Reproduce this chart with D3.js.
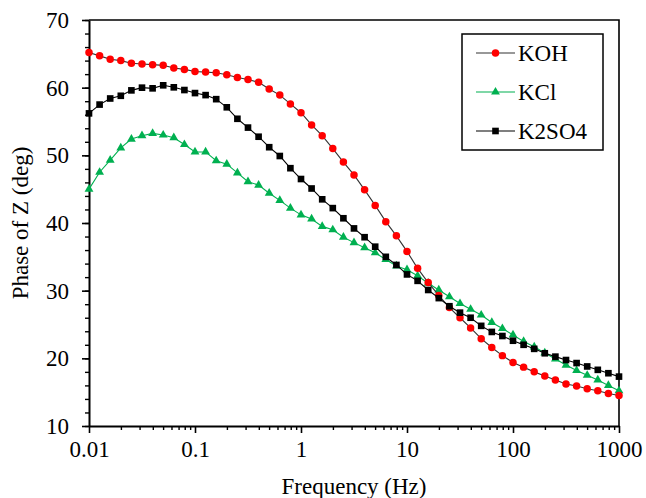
<!DOCTYPE html>
<html>
<head>
<meta charset="utf-8">
<script src="https://cdn.jsdelivr.net/npm/d3@7"></script>
<style>
  body { margin: 0; background: #fff; }
  svg text { font-family: 'Liberation Serif', 'Tinos', 'Times New Roman', 'DejaVu Serif', serif; fill: #000; }
</style>
</head>
<body>
<div id="vis"></div>
<script>
// frequencies (Hz), 10 points per decade
const freq = [0.01, 0.01259, 0.01585, 0.01995, 0.02512, 0.03162, 0.03981, 0.05012, 0.0631, 0.07943,
  0.1, 0.1259, 0.1585, 0.1995, 0.2512, 0.3162, 0.3981, 0.5012, 0.631, 0.7943,
  1, 1.259, 1.585, 1.995, 2.512, 3.162, 3.981, 5.012, 6.31, 7.943,
  10, 12.59, 15.85, 19.95, 25.12, 31.62, 39.81, 50.12, 63.1, 79.43,
  100, 125.9, 158.5, 199.5, 251.2, 316.2, 398.1, 501.2, 631, 794.3, 1000]

const koh = [65.2, 64.7, 64.2, 64.0, 63.6, 63.5, 63.4, 63.3, 62.9, 62.7,
  62.4, 62.3, 62.2, 61.9, 61.5, 61.2, 60.8, 59.8, 58.9, 57.6,
  56.3, 54.5, 52.9, 51.0, 49.0, 47.1, 44.9, 42.6, 40.2, 38.1,
  35.8, 33.3, 31.2, 29.3, 27.5, 26.0, 24.5, 22.9, 21.6, 20.4,
  19.4, 18.7, 18.0, 17.4, 16.8, 16.2, 15.9, 15.5, 15.2, 14.8, 14.5]

const kcl = [45.0, 47.5, 49.3, 51.1, 52.4, 52.9, 53.25, 53.0, 52.6, 51.6,
  50.5, 50.5, 49.2, 48.7, 47.4, 46.1, 45.6, 44.4, 43.35, 42.2,
  41.2, 40.6, 39.5, 39.0, 37.9, 37.1, 36.35, 35.6, 34.6, 33.65,
  33.1, 32.2, 31.1, 30.1, 29.1, 28.1, 27.25, 26.4, 25.3, 24.4,
  23.45, 22.5, 21.7, 20.8, 19.9, 19.0, 18.2, 17.5, 16.8, 16.0, 15.2]

const k2so4 = [56.2, 57.5, 58.4, 58.8, 59.6, 60.0, 59.9, 60.35, 60.05, 59.65,
  59.2, 58.9, 58.3, 57.1, 55.4, 54.1, 52.75, 51.2, 49.9, 48.1,
  46.5, 45.1, 43.5, 42.2, 40.7, 39.2, 37.9, 36.5, 35.0, 33.8,
  32.4, 31.45, 30.1, 28.9, 27.7, 26.75, 26.0, 24.8, 23.9, 23.3,
  22.6, 22.0, 21.4, 20.75, 20.25, 19.75, 19.3, 18.8, 18.3, 17.8, 17.3]

const xTicks = [0.01, 0.1, 1, 10, 100, 1000]
const xTickLabels = ['0.01', '0.1', '1', '10', '100', '1000']
const yTicks = [10, 20, 30, 40, 50, 60, 70]

// drawing order: green first, black on top
const series = [
  {name: 'KCl', values: kcl, color: '#00b050', line: '#00b050', shape: 'triangle'},
  {name: 'KOH', values: koh, color: '#ff0000', line: '#333333', shape: 'circle'},
  {name: 'K2SO4', values: k2so4, color: '#000000', line: '#000000', shape: 'square'}
]
const legendOrder = ['KOH', 'KCl', 'K2SO4']

const serif = "'Liberation Serif', 'Tinos', 'Times New Roman', 'DejaVu Serif', serif"
const fontSize = 23

const margin = {left: 89, top: 20, right: 27, bottom: 72}
const W = 646, H = 498
const width = W - margin.left - margin.right
const height = H - margin.top - margin.bottom

const svg = d3.select('#vis').append('svg')
    .attr('width', W)
    .attr('height', H)

const x = d3.scaleLog([0.01, 1000], [margin.left, margin.left + width])
const y = d3.scaleLinear([10, 70], [margin.top + height, margin.top])

// frame (top and right)
svg.append('path')
    .attr('d', `M${margin.left},${margin.top}H${margin.left + width}V${margin.top + height}`)
    .attr('fill', 'none')
    .attr('stroke', '#000')
    .attr('stroke-width', 1.6)

// x axis: minor ticks then major ticks with labels
let xMinor = d3.range(-2, 3).flatMap(e => d3.range(2, 10).map(m => m * Math.pow(10, e)))
svg.append('g')
    .attr('transform', `translate(0, ${margin.top + height})`)
    .call(d3.axisBottom(x).tickValues(xMinor).tickSize(4).tickFormat(''))
    .call(g => g.select('.domain').remove())
    .call(g => g.selectAll('.tick line').attr('stroke-width', 1.4))

svg.append('g')
    .attr('transform', `translate(0, ${margin.top + height})`)
    .call(d3.axisBottom(x).tickValues(xTicks).tickSize(7).tickSizeOuter(0)
        .tickFormat((d, i) => xTickLabels[i]).tickPadding(8))
    .attr('font-family', serif)
    .call(g => g.select('.domain').attr('stroke-width', 2))
    .call(g => g.selectAll('.tick line').attr('stroke-width', 1.6))
    .call(g => g.selectAll('text').attr('font-size', fontSize))

// y axis: minor ticks every 2
svg.append('g')
    .attr('transform', `translate(${margin.left}, 0)`)
    .call(d3.axisLeft(y).tickValues(d3.range(10, 71, 2)).tickSize(4).tickFormat(''))
    .call(g => g.select('.domain').remove())
    .call(g => g.selectAll('.tick line').attr('stroke-width', 1.4))

svg.append('g')
    .attr('transform', `translate(${margin.left}, 0)`)
    .call(d3.axisLeft(y).tickValues(yTicks).tickSize(7).tickSizeOuter(0).tickPadding(13))
    .attr('font-family', serif)
    .call(g => g.select('.domain').attr('stroke-width', 2))
    .call(g => g.selectAll('.tick line').attr('stroke-width', 1.6))
    .call(g => g.selectAll('text').attr('font-size', fontSize))

// axis titles
svg.append('text')
    .attr('x', margin.left + width / 2)
    .attr('y', 494)
    .attr('text-anchor', 'middle')
    .attr('font-size', fontSize)
    .text('Frequency (Hz)')

svg.append('text')
    .attr('transform', `translate(28, ${margin.top + height / 2}) rotate(-90)`)
    .attr('text-anchor', 'middle')
    .attr('font-size', fontSize)
    .text('Phase of Z (deg)')

// markers
const symbols = {
  circle: d3.symbol(d3.symbolCircle, 44),
  square: d3.symbol(d3.symbolSquare, 44),
  triangle: d3.symbol(d3.symbolTriangle, 34)
}

const line = d3.line()
    .x((d, i) => x(freq[i]))
    .y(d => y(d))

series.forEach(s => {
  let g = svg.append('g')
  g.append('path')
      .attr('d', line(s.values))
      .attr('fill', 'none')
      .attr('stroke', s.line)
      .attr('stroke-width', 1.1)
  g.selectAll('path.pt')
      .data(s.values)
      .enter()
      .append('path')
        .attr('class', 'pt')
        .attr('d', symbols[s.shape]())
        .attr('transform', (d, i) => `translate(${x(freq[i])}, ${y(d)})`)
        .attr('fill', s.color)
})

// legend
const lx = 462, ly = 34
svg.append('rect')
    .attr('x', lx)
    .attr('y', ly)
    .attr('width', 141)
    .attr('height', 116)
    .attr('fill', '#fff')
    .attr('stroke', '#000')
    .attr('stroke-width', 1.5)

legendOrder.forEach((name, i) => {
  let s = series.find(d => d.name === name)
  let yy = ly + 19 + i * 39
  svg.append('line')
      .attr('x1', lx + 14).attr('x2', lx + 53)
      .attr('y1', yy).attr('y2', yy)
      .attr('stroke', s.line)
      .attr('stroke-width', 1.1)
  svg.append('path')
      .attr('d', symbols[s.shape]())
      .attr('transform', `translate(${lx + 33.5}, ${yy})`)
      .attr('fill', s.color)
  svg.append('text')
      .attr('x', lx + 56)
      .attr('y', yy)
      .attr('dy', '0.35em')
      .attr('font-size', fontSize)
      .text(name)
})
</script>
</body>
</html>
